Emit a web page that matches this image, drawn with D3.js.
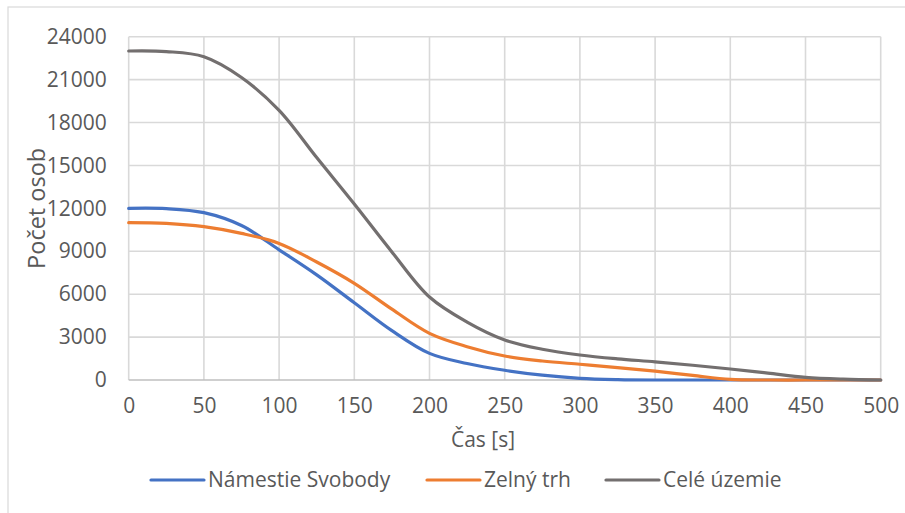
<!DOCTYPE html>
<html>
<head>
<meta charset="utf-8">
<script src="https://cdn.jsdelivr.net/npm/d3@7"></script>
<style>
  body { margin: 0; background: #fff; }
  text { font-family: "Open Sans", sans-serif; fill: #595959; }
</style>
</head>
<body>
<div class="chart"></div>
<script>
// time steps [s] and people counts
var times = [0, 25, 50, 75, 100, 125, 150, 175, 200, 225, 250, 275, 300, 325, 350, 375, 400, 425, 450, 475, 500];
var namestie = [12000, 11980, 11700, 10800, 9100, 7350, 5400, 3450, 1860, 1150, 680, 340, 120, 30, 0, 0, 0, 0, 0, 0, 0];
var zelny = [11000, 10950, 10720, 10250, 9550, 8250, 6760, 4950, 3260, 2330, 1680, 1330, 1100, 870, 620, 320, 40, 0, 0, 0, 0];
var cele = [23000, 22960, 22600, 21150, 18850, 15550, 12300, 8950, 5800, 4050, 2800, 2150, 1750, 1480, 1270, 1030, 770, 480, 190, 60, 0];

var seriesNames = ["Námestie Svobody", "Zelný trh", "Celé územie"];
var seriesColors = ["#4472c4", "#ed7d31", "#736f6f"];
var xTicks = [0, 50, 100, 150, 200, 250, 300, 350, 400, 450, 500];
var yTicks = [0, 3000, 6000, 9000, 12000, 15000, 18000, 21000, 24000];

var W = 905, H = 513;
var margin = {top: 36.7, right: 24.3, bottom: 133, left: 128.7},
  width = W - margin.left - margin.right,
  height = H - margin.top - margin.bottom;

var svg = d3.select(".chart")
  .append("svg")
  .attr("width", W)
  .attr("height", H);

// chart border
svg.append("rect")
  .attr("x", 8).attr("y", 7)
  .attr("width", W + 10).attr("height", H + 10)
  .attr("fill", "none")
  .attr("stroke", "#d9d9d9")
  .attr("stroke-width", 1.2);

var g = svg.append("g")
  .attr("transform", "translate(" + margin.left + "," + margin.top + ")");

var x = d3.scaleLinear().domain([0, 500]).range([0, width]);
var y = d3.scaleLinear().domain([0, 24000]).range([height, 0]);

// gridlines
g.append("g")
  .selectAll("line")
  .data(yTicks.slice(1))
  .enter().append("line")
  .attr("x1", 0).attr("x2", width)
  .attr("y1", function(d) { return y(d); })
  .attr("y2", function(d) { return y(d); })
  .attr("stroke", "#d9d9d9")
  .attr("stroke-width", 1.6);

g.append("g")
  .selectAll("line")
  .data(xTicks)
  .enter().append("line")
  .attr("x1", function(d) { return x(d); })
  .attr("x2", function(d) { return x(d); })
  .attr("y1", 0).attr("y2", height)
  .attr("stroke", "#d9d9d9")
  .attr("stroke-width", 1.6);

// x axis line
g.append("line")
  .attr("x1", 0).attr("x2", width)
  .attr("y1", height).attr("y2", height)
  .attr("stroke", "#bfbfbf")
  .attr("stroke-width", 1.6);

var xAxis = d3.axisBottom(x).tickValues(xTicks).tickSize(0).tickPadding(18)
  .tickFormat(d3.format("d"));
var gx = g.append("g")
  .attr("transform", "translate(0," + height + ")")
  .call(xAxis);
gx.select(".domain").remove();
gx.selectAll("text").attr("font-size", 21).attr("font-family", null).style("fill", "#595959");

var yAxis = d3.axisLeft(y).tickValues(yTicks).tickSize(0).tickPadding(22)
  .tickFormat(d3.format("d"));
var gy = g.append("g").call(yAxis);
gy.select(".domain").remove();
gy.selectAll("text").attr("font-size", 21).attr("font-family", null).style("fill", "#595959");

// axis titles
svg.append("text")
  .attr("x", 483).attr("y", 447)
  .attr("text-anchor", "middle")
  .attr("font-size", 21)
  .text("Čas [s]");

svg.append("text")
  .attr("transform", "translate(45," + (margin.top + height / 2) + ") rotate(-90)")
  .attr("text-anchor", "middle")
  .attr("font-size", 23.5)
  .text("Počet osob");

// lines
var allSeries = [namestie, zelny, cele];
var line = d3.line()
  .x(function(d, i) { return x(times[i]); })
  .y(function(d) { return y(d); })
  .curve(d3.curveCatmullRom.alpha(0.5));

g.selectAll("path.series")
  .data(allSeries)
  .enter().append("path")
  .attr("class", "series")
  .attr("d", line)
  .attr("fill", "none")
  .attr("stroke", function(d, i) { return seriesColors[i]; })
  .attr("stroke-width", 3.2)
  .attr("stroke-linecap", "round");

// legend
var legendX = [151, 427, 606];
var leg = svg.append("g");
seriesNames.forEach(function(name, i) {
  leg.append("line")
    .attr("x1", legendX[i]).attr("x2", legendX[i] + 53)
    .attr("y1", 480).attr("y2", 480)
    .attr("stroke", seriesColors[i])
    .attr("stroke-width", 3.2)
    .attr("stroke-linecap", "round");
  leg.append("text")
    .attr("x", legendX[i] + 57).attr("y", 487)
    .attr("font-size", 21)
    .text(name);
});
</script>
</body>
</html>
